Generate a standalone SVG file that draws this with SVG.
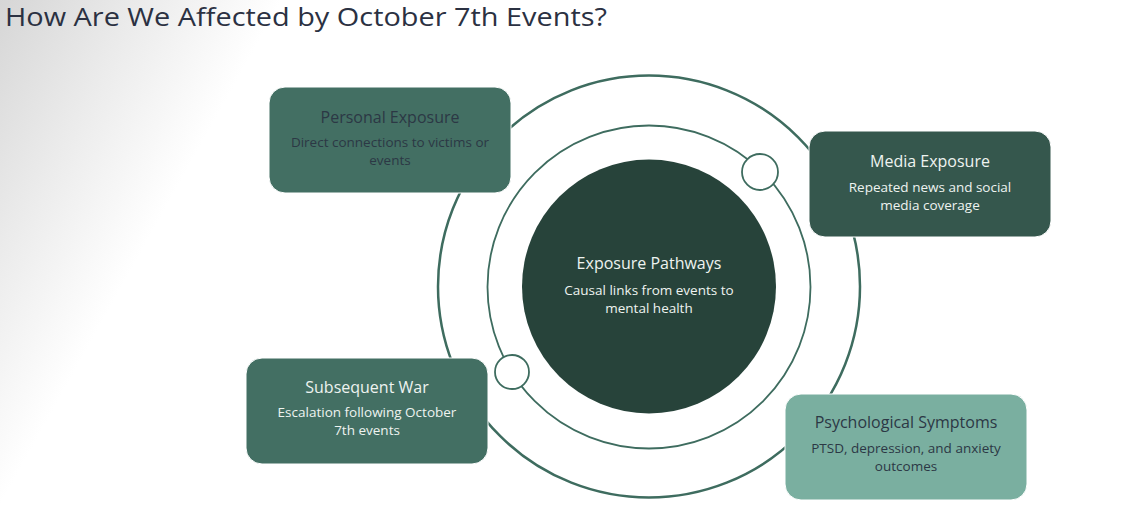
<svg xmlns="http://www.w3.org/2000/svg" width="1138" height="530" viewBox="0 0 1138 530">
  <defs>
    <linearGradient id="bg" gradientUnits="userSpaceOnUse" x1="0" y1="0" x2="215" y2="120">
      <stop offset="0" stop-color="#d6d6d6"/>
      <stop offset="0.5" stop-color="#ebebeb"/>
      <stop offset="1" stop-color="#ffffff"/>
    </linearGradient>
    <style>
      text { font-family: "Open Sans", "Noto Sans", "Liberation Sans", sans-serif; text-anchor: middle; }
      .ring { fill: none; stroke: #3e6c5f; }
      .knob { fill: #ffffff; stroke: #3e6c5f; stroke-width: 1.8; }
      .box { stroke: #ffffff; stroke-width: 1; }
      .h { font-size: 16px; }
      .s { font-size: 13.5px; }
      .dark { fill: #2c3845; }
      .light { fill: #eef3f0; }
    </style>
  </defs>
  <rect width="1138" height="530" fill="#ffffff"/>
  <rect width="1138" height="530" fill="url(#bg)"/>
  <text x="5" y="26" textLength="602" lengthAdjust="spacingAndGlyphs" style="text-anchor:start;font-size:25px;fill:#2b3142">How Are We Affected by October 7th Events?</text>

  <g id="connectors">
    <circle class="ring" cx="649" cy="286.5" r="211" stroke-width="2.5"/>
    <circle class="ring" cx="649" cy="287" r="161.5" stroke-width="1.8"/>
  </g>

  <g id="center">
    <circle cx="649" cy="286.5" r="127" fill="#27433a"/>
    <text class="h light" x="649" y="269">Exposure Pathways</text>
    <text class="s light" x="649" y="295">Causal links from events to</text>
    <text class="s light" x="649" y="313">mental health</text>
  </g>

  <g id="knob-1"><circle class="knob" cx="760" cy="172" r="18"/></g>
  <g id="knob-2"><circle class="knob" cx="512" cy="372" r="17"/></g>

  <g id="personal-exposure">
    <rect class="box" x="269" y="87" width="242" height="106" rx="16" fill="#436f63"/>
    <text class="h dark" x="390" y="123">Personal Exposure</text>
    <text class="s dark" x="390" y="147">Direct connections to victims or</text>
    <text class="s dark" x="390" y="165">events</text>
  </g>

  <g id="media-exposure">
    <rect class="box" x="809" y="131" width="242" height="106" rx="16" fill="#35574d"/>
    <text class="h light" x="930" y="167">Media Exposure</text>
    <text class="s light" x="930" y="192">Repeated news and social</text>
    <text class="s light" x="930" y="210">media coverage</text>
  </g>

  <g id="subsequent-war">
    <rect class="box" x="246" y="358" width="242" height="106" rx="16" fill="#436f63"/>
    <text class="h light" x="367" y="393">Subsequent War</text>
    <text class="s light" x="367" y="417">Escalation following October</text>
    <text class="s light" x="367" y="435">7th events</text>
  </g>

  <g id="psychological-symptoms">
    <rect class="box" x="785" y="394" width="242" height="106" rx="16" fill="#7aafa0"/>
    <text class="h dark" x="906" y="428">Psychological Symptoms</text>
    <text class="s dark" x="906" y="453">PTSD, depression, and anxiety</text>
    <text class="s dark" x="906" y="471">outcomes</text>
  </g>
</svg>
